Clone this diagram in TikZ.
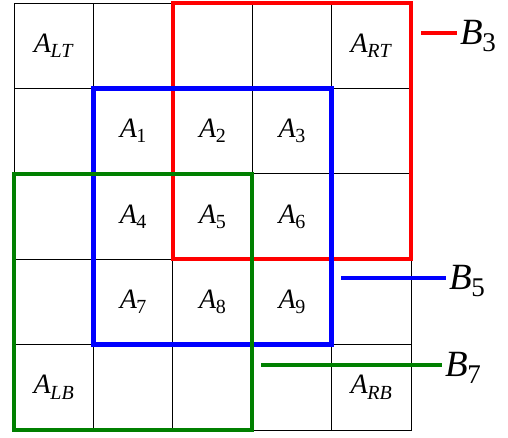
\documentclass[tikz,border=0pt]{standalone}
\usepackage{fontspec}
\setmainfont{Liberation Serif}
\newcommand{\Asub}[1]{\textit{A}\kern-0.5pt\raisebox{-0.4ex}{\fontsize{20}{20}\selectfont #1}}
\newcommand{\Bsub}[1]{\textit{B}\kern-0.5pt\raisebox{-0.4ex}{\fontsize{27}{27}\selectfont #1}}
\begin{document}
\begin{tikzpicture}[x=1pt,y=-1pt,
  cell/.style={draw=black,line width=1pt,minimum width=79.4pt,minimum height=85.4pt,inner sep=0pt,outer sep=0pt},
  alab/.style={font=\fontsize{28}{28}\selectfont},
  redbox/.style={draw=red,line width=4.5pt},
  bluebox/.style={draw=blue,line width=4.5pt},
  greenbox/.style={draw=green!50!black,line width=4.5pt},
  blab/.style={anchor=west,inner sep=3pt,font=\fontsize{37}{37}\selectfont}]
\useasboundingbox (0,0) rectangle (508,437);
\foreach \r in {1,...,5}{
  \foreach \c in {1,...,5}{
    \node[cell] (c\r\c) at ({14+79.4*(\c-0.5)},{3+85.4*(\r-0.5)}) {};
  }
}
\node[alab] at (c11) {\Asub{\textit{LT}}};
\node[alab] at (c15) {\Asub{\textit{RT}}};
\node[alab] at (c22) {\Asub{1}};
\node[alab] at (c23) {\Asub{2}};
\node[alab] at (c24) {\Asub{3}};
\node[alab] at (c32) {\Asub{4}};
\node[alab] at (c33) {\Asub{5}};
\node[alab] at (c34) {\Asub{6}};
\node[alab] at (c42) {\Asub{7}};
\node[alab] at (c43) {\Asub{8}};
\node[alab] at (c44) {\Asub{9}};
\node[alab] at (c51) {\Asub{\textit{LB}}};
\node[alab] at (c55) {\Asub{\textit{RB}}};
% coloured blocks
\draw[redbox] (c13.north west) rectangle (c35.south east);
\draw[bluebox] (c22.north west) rectangle (c44.south east);
\draw[greenbox] (c31.north west) rectangle (c53.south east);
% labels
\node[blab] (B3) at (457,36) {\Bsub{3}};
\node[blab] (B5) at (446,281) {\Bsub{5}};
\node[blab] (B7) at (442,368) {\Bsub{7}};
\coordinate (r0) at (421,33);
\coordinate (b0) at (341,278);
\coordinate (g0) at (261,365);
\draw[red,line width=3.5pt] (r0) -- (r0 -| B3.west);
\draw[blue,line width=3.5pt] (b0) -- (b0 -| B5.west);
\draw[green!50!black,line width=3.5pt] (g0) -- (g0 -| B7.west);
\end{tikzpicture}
\end{document}
